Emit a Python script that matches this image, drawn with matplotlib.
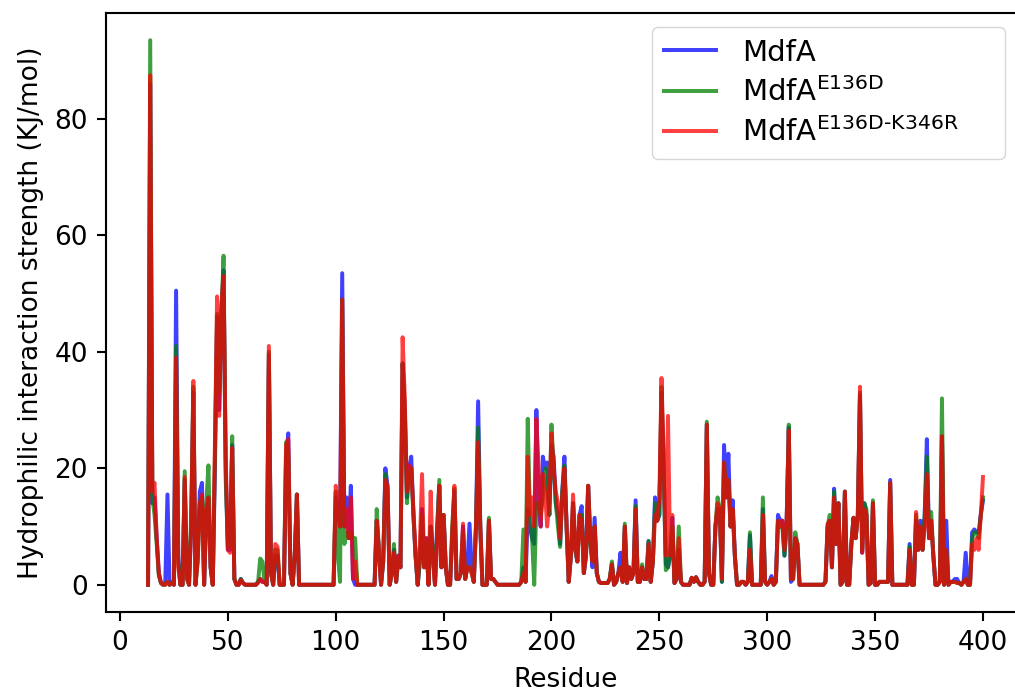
import numpy as np
import matplotlib.pyplot as plt

residue = np.arange(13, 401)

mdfa = [
    0, 86, 14, 15, 8, 2, 0.3,
    0, 0.5, 15.5, 0, 0.5, 0, 50.5, 5, 0, 0,
    18, 2, 0, 10, 33, 0, 5, 16, 17.5, 0,
    12, 15, 3, 0, 20, 46, 30, 47, 54, 20,
    6, 6, 24, 1, 0, 0, 1, 0.3, 0, 0,
    0, 0, 0, 0, 0.5, 1, 0.5, 0.5, 0, 39.5,
    2, 0, 5, 5, 0, 0, 0, 22, 26, 2,
    0, 5, 15.5, 0, 0, 0, 0, 0, 0, 0,
    0, 0, 0, 0, 0, 0, 0, 0, 0, 0,
    15, 13, 10, 53.5, 10, 15, 8, 17, 1, 0,
    0, 0, 0, 0, 0, 0, 0, 0, 0, 11,
    6, 0, 4, 20, 17, 0, 2, 6, 0.5, 5,
    3, 38, 30, 15, 20, 22, 12, 5, 0, 4,
    13, 3, 8, 0, 10, 6, 0, 10, 17, 3,
    12, 3, 0, 0, 8, 16, 1, 1, 2, 10,
    1, 3, 10.5, 3, 0.5, 10, 31.5, 10, 0, 0,
    0, 11, 1, 1, 0.5, 0, 0, 0, 0, 0,
    0, 0, 0, 0, 0, 0, 0.5, 3, 0.5, 13,
    10, 8, 7, 30, 14, 10, 22, 20, 21, 12,
    24, 22, 14, 12, 7, 16, 22, 10, 0.5, 5,
    14, 6, 4, 12, 13.5, 2, 5, 17, 8, 3,
    11.5, 2, 0.5, 0.3, 0.3, 0.3, 0.3, 1, 3.5, 0,
    0.5, 2, 5.5, 0.5, 10, 0.3, 3, 1, 2, 14.5,
    0.5, 0.5, 3, 1, 1, 7.5, 0.5, 4, 15, 11,
    12, 33, 20, 3.5, 3, 5, 11.5, 0.3, 1, 6,
    0.5, 0, 0, 0, 0, 1.2, 0.5, 1.3, 0.5, 0,
    0, 0.5, 27.5, 2, 0, 0, 10, 13, 13, 0.5,
    24, 15, 22.5, 10, 14.5, 5, 0, 0, 0.5, 0.5,
    0, 0.5, 8.5, 0, 0, 0, 0, 0, 13, 0.5,
    0, 0.5, 1.5, 0, 0.5, 12, 11, 11, 5, 11,
    27, 0.5, 1, 8, 7, 0, 0, 0, 0, 0,
    0, 0, 0, 0, 0, 0, 0, 0.5, 10, 11,
    3, 16.5, 7, 14, 0, 0.5, 16, 0, 0, 7,
    11.5, 8, 12, 32.5, 5.5, 14, 12, 0, 0.3, 14,
    0, 0, 0.5, 0.5, 0.5, 0.5, 0.5, 18, 0, 0,
    0, 0, 0, 0, 0, 0, 7, 0, 0, 11,
    6, 11, 6, 12, 25, 8, 11, 5, 0, 0,
    0.5, 25.5, 0, 11, 0, 0.5, 0.5, 1, 1, 0.3,
    0, 0.5, 5.5, 0, 0, 9, 9.5, 9, 9, 12,
    14.5,
]

mdfa_e136d = [
    0, 93.5, 15, 12, 7, 1.5, 0.3,
    0, 0, 0.5, 0, 0.3, 0, 41, 4, 0, 0,
    19.5, 1, 0, 12, 34, 0, 4, 14, 15, 0,
    14, 20.5, 3, 0, 22, 46.5, 33, 46, 56.5, 18,
    6.5, 7, 25.5, 1, 0, 0, 1, 0.3, 0, 0,
    0, 0, 0, 0, 0.5, 4.5, 4, 0.5, 0, 40,
    2, 0, 6, 6, 0, 0, 0, 24.5, 23, 2,
    0, 5, 15.5, 0, 0, 0, 0, 0, 0, 0,
    0, 0, 0, 0, 0, 0, 0, 0, 0, 0,
    16, 5, 0.5, 49, 7, 9, 8, 9, 8, 8,
    0, 0, 0, 0, 0, 0, 0, 0, 0, 13,
    6, 0, 4, 19, 16, 0, 2, 7, 0.5, 4,
    3, 38, 30, 14, 19, 20, 12, 5, 0, 4,
    12, 3, 7, 0, 10, 6, 0, 9, 18, 3,
    12, 3, 0, 0, 10, 16.5, 1, 1, 2, 9,
    1, 3, 3, 2, 0.5, 10, 27, 10, 0, 0,
    0, 11.5, 1, 1, 0.5, 0, 0, 0, 0, 0,
    0, 0, 0, 0, 0, 0, 0.5, 9.5, 0.5, 28.5,
    12, 8, 0, 14, 14, 12, 15, 20, 17, 12,
    27.5, 20, 14, 10, 6.5, 16, 20.5, 10, 0.5, 5,
    14, 6, 4, 12, 12, 2, 5, 17, 7, 4,
    10, 2, 0.5, 0.3, 0.3, 0.3, 0.3, 1, 4, 0,
    0.5, 2, 3, 0.5, 10.5, 0.3, 3, 1, 2, 13.5,
    0.5, 0.5, 3.5, 1, 1, 7.5, 0.5, 4, 14, 11,
    12, 34, 20, 2.5, 3, 5, 10, 0.3, 1, 10,
    0.5, 0, 0, 0, 0, 1.2, 0.5, 1.3, 0.5, 0,
    0, 0.5, 28, 2, 0, 0, 10, 15, 13, 0.5,
    21, 15, 18, 10, 13, 5, 0, 0, 0.5, 0.5,
    0, 0.5, 9, 0, 0, 0, 0, 0, 15, 0.5,
    0, 0.5, 1, 0, 0.5, 11, 10, 10, 5, 10,
    27.5, 1, 1, 9, 7, 0, 0, 0, 0, 0,
    0, 0, 0, 0, 0, 0, 0, 0.5, 10, 12,
    3, 16, 7, 14, 0, 0.5, 16, 0, 0, 7,
    11.5, 8, 12, 33, 6, 14, 13, 0, 0.3, 14.5,
    0, 0, 0.5, 0.5, 0.5, 0.5, 0.5, 17.5, 0, 0,
    0, 0, 0, 0, 0, 0, 6.5, 0, 0, 12,
    6, 10, 6, 12, 22, 8, 12.5, 5, 0, 0,
    0.5, 32, 0, 6, 0, 0.5, 0.5, 0.5, 0.3, 0.3,
    0, 0.5, 1, 0, 0, 8, 9, 9, 8, 12,
    15,
]

mdfa_e136d_k346r = [
    0, 87.5, 16, 17.5, 8, 2, 0.3,
    0, 0, 0.5, 0, 0.3, 0, 39, 3, 0, 0,
    18.5, 1, 0, 10, 35, 0, 4, 14, 15.5, 0,
    13, 15, 3, 0, 24, 49.5, 29, 48, 53, 22,
    6, 5.5, 23.5, 1, 0, 0, 0.8, 0.3, 0, 0,
    0, 0, 0, 0, 0.3, 1, 0.5, 0.5, 0, 41,
    2, 0, 7, 6.5, 0, 0, 0, 24, 25, 2,
    0, 5, 15.5, 0, 0, 0, 0, 0, 0, 0,
    0, 0, 0, 0, 0, 0, 0, 0, 0, 0,
    17, 13, 10, 49, 10, 13, 8, 15, 1, 4,
    0, 0, 0, 0, 0, 0, 0, 0, 0, 11,
    6, 0, 4, 18, 17, 0, 2, 5.5, 0.5, 5,
    3, 42.5, 32, 16, 20.5, 20, 13, 5, 0, 7,
    19, 3, 8, 0, 16, 4, 0, 7, 17, 3,
    12, 3, 0, 0, 9, 17, 1, 1, 2, 10.5,
    1, 3, 3, 2, 0.5, 10, 24.5, 10, 0, 0,
    0, 11, 1, 1, 0.5, 0, 0, 0, 0, 0,
    0, 0, 0, 0, 0, 0, 0.5, 2, 0.5, 22,
    12, 15, 10, 28.5, 20, 10, 19, 16, 10, 14,
    26, 20, 16, 14, 8, 15, 20, 10, 0.5, 5,
    15.5, 7, 4, 12, 11, 2, 5, 17, 8, 4,
    10, 2, 0.5, 0.3, 0.3, 0.3, 0.3, 1, 3.5, 0,
    0.5, 2, 3, 0.5, 10, 0.3, 3, 1, 2, 13,
    0.5, 0.5, 3, 1, 1, 7, 0.5, 4, 12, 11,
    15, 35.5, 22, 5, 29, 5, 12, 0.3, 1, 8,
    0.5, 0, 0, 0, 0, 1.2, 0.5, 1.3, 0.5, 0,
    0, 0.5, 27.5, 2, 0, 0, 10, 14, 13, 1,
    21, 15, 18, 10, 13, 5, 0, 0, 0.5, 0.5,
    0, 0.5, 6, 0, 0, 0, 0, 0, 12, 0.5,
    0, 0.5, 1, 0, 0.5, 11, 10, 11, 6, 11,
    26.5, 1, 1, 8, 7, 0, 0, 0, 0, 0,
    0, 0, 0, 0, 0, 0, 0, 0.5, 10.5, 11,
    3, 15, 7, 14, 0, 0.5, 16, 0, 0, 7,
    11.5, 8, 12, 34, 5.5, 13, 12, 0, 0.3, 14,
    0, 0, 0.5, 0.5, 0.5, 0.5, 0.5, 17.5, 0, 0,
    0, 0, 0, 0, 0, 0, 6, 0, 0, 12.5,
    6, 10, 6, 10, 19, 8, 11, 5, 0, 0,
    0.5, 25.5, 0, 6, 0, 0.5, 0.5, 0.5, 0.3, 0.3,
    0, 0.5, 1, 0, 0, 7, 6, 8, 6, 12,
    18.5,
]

series = [
    ("MdfA", mdfa, "blue"),
    (r"MdfA$^{\mathrm{E136D}}$", mdfa_e136d, "green"),
    (r"MdfA$^{\text{E136D-K346R}}$", mdfa_e136d_k346r, "red"),
]

s = 1.9  # scale from the default 10pt look
plt.rcParams.update({"font.size": 10 * s, "axes.linewidth": 0.8 * s})

fig = plt.figure(figsize=(10.15, 6.93), dpi=100)
ax = fig.add_axes([106.3 / 1015, 81 / 693, 918.4 / 1015, 599 / 693])

for label, vals, color in series:
    ax.plot(residue, vals, color=color, alpha=0.75, lw=1.5 * s, label=label)

ax.set_xlabel("Residue", labelpad=4 * s)
ax.set_ylabel("Hydrophilic interaction strength (KJ/mol)", labelpad=4 * s)
ax.tick_params(length=3.5 * s, width=0.8 * s, pad=3.5 * s)
ax.legend(loc="upper left", mode="expand", fontsize=21, handlelength=1.8,
          handletextpad=0.9, labelspacing=0.35,
          bbox_to_anchor=(652 / 1015, 1 - 158 / 693, 353 / 1015, 131 / 693),
          bbox_transform=fig.transFigure, borderaxespad=0)

fig.savefig("out.png", dpi=100)
